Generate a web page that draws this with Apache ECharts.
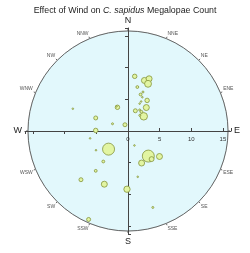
<!DOCTYPE html>
<html>
<head>
<meta charset="utf-8">
<script src="https://cdn.jsdelivr.net/npm/echarts@6/dist/echarts.min.js"></script>
<style>html,body{margin:0;padding:0;background:#fff;}#c{width:250px;height:253px;}</style>
</head>
<body>
<div id="c"></div>
<script>
// Compass direction names (tick labels of the angle axis, every 22.5 degrees)
const directions = ['N','NNE','NE','ENE','E','ESE','SE','SSE','S','SSW','SW','WSW','W','WNW','NW','NNW'];
// Wind speed (radius) of each observation
const windSpeed = [8.7, 8.4, 8.9, 8.1, 7.1, 6.6, 6.1, 5.8, 5.7, 5.1, 4.7, 4.7, 3.4, 3.8, 3.7, 3.4, 3.1,
                   9.4, 5.5, 2.7, 4.1, 4.3, 1.1, 5.1,
                   4.2, 6.2, 8.1, 10.7, 9.2, 9.2, 15.3,
                   5.1, 5.8, 5.5, 6.4, 7.4, 12.7, 2.5, 5.9, 6.1];
// Wind direction (degrees clockwise from north)
const windDir = [7, 18, 22, 23, 12, 21, 19, 23, 32, 24, 23, 38, 20, 29, 35, 47, 37,
                 292, 292, 295, 336, 335, 334, 271,
                 227, 219, 219, 224, 204, 181, 204,
                 141, 140, 157, 129, 168, 162, 156, 239, 259];
// Megalopae count (bubble size)
const counts = [5, 9, 9, 12, 2, 1, 2, 0, 5, 0, 0, 9, 4, 1, 2, 14, 1,
                0, 4, 1, 5, 0, 4, 5,
                36, 2, 2, 4, 9, 10, 4,
                36, 6, 9, 9, 0, 1, 0, 0, 0];
const radiusMax = 15.8;
const radiusStep = 5;

const C = [128, 131];
const R = 100;
const R2 = 103;
const max2 = radiusMax * R2 / R;

const data = windSpeed.map((s, i) => [s, windDir[i], counts[i]]);

function hiddenAngle(idx, start) {
  return { polarIndex: idx, type: 'value', min: 0, max: 360, startAngle: start, clockwise: true,
    axisLine: {show: false}, axisTick: {show: false}, axisLabel: {show: false}, splitLine: {show: false} };
}
function crossRadius(idx, labels) {
  return { polarIndex: idx, type: 'value', min: 0, max: max2, interval: radiusStep,
    axisLine: {show: true, lineStyle: {color: '#444', width: 1}},
    axisTick: {show: true, length: 3, lineStyle: {color: '#444', width: 1}},
    axisLabel: {show: labels, fontSize: 6, color: '#333', fontFamily: 'Liberation Sans', margin: -11,
      formatter: v => (Math.abs(v % radiusStep) < 1e-6 ? String(v) : '')},
    splitLine: {show: false}, z: 5 };
}

const chart = echarts.init(document.getElementById('c'), null, {renderer: 'canvas'});
chart.setOption({
  backgroundColor: '#ffffff',
  animation: false,
  title: {
    text: '{a|Effect of Wind on }{i|C. sapidus}{a| Megalopae Count}',
    left: 'center', top: 1,
    textStyle: {
      fontWeight: 'normal',
      rich: {
        a: {fontSize: 8.8, color: '#222', fontFamily: 'Liberation Sans', fontWeight: 'normal'},
        i: {fontSize: 8.8, color: '#222', fontFamily: 'Liberation Sans', fontStyle: 'italic', fontWeight: 'normal'}
      }
    }
  },
  polar: [
    {center: C, radius: R},
    {center: C, radius: R2},
    {center: C, radius: R2},
    {center: C, radius: R2},
    {center: C, radius: R2}
  ],
  angleAxis: [
    { polarIndex: 0, type: 'value', min: 0, max: 360, interval: 22.5, startAngle: 90, clockwise: true,
      axisLine: {show: true, lineStyle: {color: '#666', width: 1}},
      axisTick: {show: true, length: 2, lineStyle: {color: '#666'}},
      splitLine: {show: true, lineStyle: {color: '#c6d0d0', width: 0.8}},
      splitArea: {show: true, areaStyle: {color: ['#e2f8fc']}},
      axisLabel: {
        margin: 3,
        formatter: v => {
          const i = Math.round(v / 22.5);
          if (i >= directions.length) return '';
          return i % 4 === 0 ? '{big|' + directions[i] + '}' : '{small|' + directions[i] + '}';
        },
        rich: {
          big: {fontSize: 9, color: '#222', fontFamily: 'Liberation Sans', padding: [3, 3, 3, 3]},
          small: {fontSize: 5, color: '#555', fontFamily: 'Liberation Sans'}
        }
      }
    },
    hiddenAngle(1, 0),
    hiddenAngle(2, 90),
    hiddenAngle(3, 180),
    hiddenAngle(4, 270)
  ],
  radiusAxis: [
    { polarIndex: 0, type: 'value', min: 0, max: radiusMax, interval: radiusStep,
      axisLine: {show: false}, axisTick: {show: false}, axisLabel: {show: false},
      splitLine: {show: true, lineStyle: {color: '#c4d0d0', width: 0.8}} },
    crossRadius(1, true),
    crossRadius(2, false),
    crossRadius(3, false),
    crossRadius(4, false)
  ],
  series: [{
    type: 'scatter',
    coordinateSystem: 'polar',
    polarIndex: 0,
    data: data,
    symbolSize: v => Math.max(1.6, 2 * Math.sqrt(v[2])),
    itemStyle: {color: '#e2f5a2', borderColor: '#84943a', borderWidth: 0.8, opacity: 1},
    z: 10
  }]
});
</script>
</body>
</html>
